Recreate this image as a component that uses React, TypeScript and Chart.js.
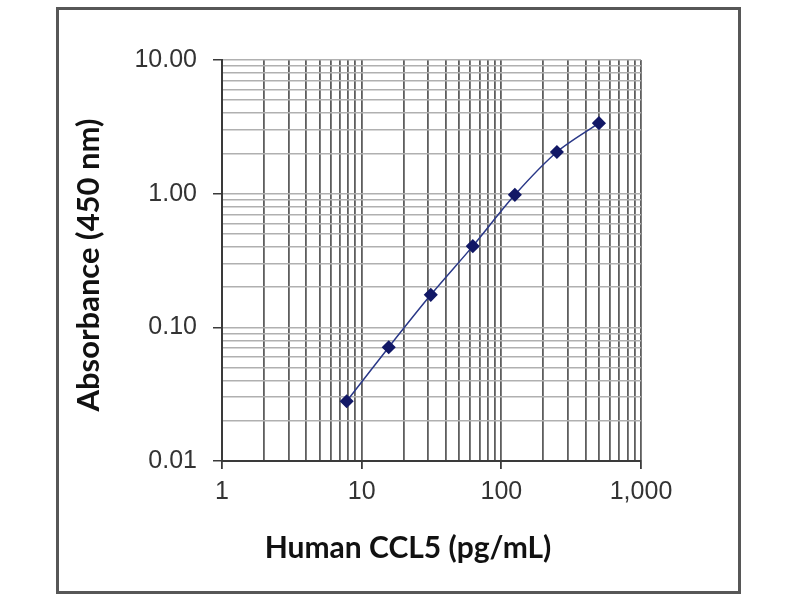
import React, { useEffect, useRef } from "react";
import { Chart, registerables } from "chart.js";

Chart.register(...registerables);

// ---- data ----
const concentrations = [7.8125, 15.625, 31.25, 62.5, 125, 250, 500];
const absorbance = [0.028, 0.071, 0.175, 0.405, 0.98, 2.05, 3.37];
const xTickLabels = ["1", "10", "100", "1,000"];
const yTickLabels = ["0.01", "0.10", "1.00", "10.00"];
const xTitle = "Human CCL5 (pg/mL)";
const yTitle = "Absorbance (450 nm)";
const X_MIN = 1;
const X_MAX = 1000;
const Y_MIN = 0.01;
const Y_MAX = 10;

const isPow10 = (v: number) => Math.abs(Math.log10(v) - Math.round(Math.log10(v))) < 1e-9;

function logTicks(min: number, max: number) {
  const out: { value: number; major: boolean }[] = [];
  const e0 = Math.floor(Math.log10(min) + 1e-9);
  const e1 = Math.ceil(Math.log10(max) - 1e-9);
  for (let e = e0; e <= e1; e++) {
    for (let m = 1; m <= 9; m++) {
      const v = parseFloat((m * Math.pow(10, e)).toPrecision(12));
      if (v >= min * 0.999999 && v <= max * 1.000001) out.push({ value: v, major: m === 1 });
    }
  }
  return out;
}

function labelFor(v: number, min: number, labels: string[]) {
  if (!isPow10(v)) return "";
  const k = Math.round(Math.log10(v) - Math.log10(min));
  return labels[k] ?? "";
}

const frameAndTitles = {
  id: "frameAndTitles",
  afterDraw(chart: any) {
    const ctx = chart.ctx as CanvasRenderingContext2D;
    ctx.save();
    // outer frame
    ctx.strokeStyle = "#575757";
    ctx.lineWidth = 3;
    ctx.strokeRect(57.5, 8.5, 682, 584);
    // titles
    ctx.fillStyle = "#111";
    ctx.textAlign = "center";
    ctx.textBaseline = "middle";
    const fit = (text: string, target: number) => {
      ctx.font = "bold 24px Lato";
      const w = ctx.measureText(text).width;
      return Math.round(24 * target / w);
    };
    const xs = fit(xTitle, 284);
    ctx.font = `bold ${xs}px Lato`;
    ctx.fillText(xTitle, 408, 548);
    const ys = fit(yTitle, 292);
    ctx.save();
    ctx.translate(89, 265);
    ctx.rotate(-Math.PI / 2);
    ctx.font = `bold ${ys}px Lato`;
    ctx.fillText(yTitle, 0, 0);
    ctx.restore();
    ctx.restore();
  },
};

export default function App() {
  const ref = useRef<HTMLCanvasElement | null>(null);
  useEffect(() => {
    if (!ref.current) return;
    const chart = new Chart(ref.current, {
      type: "line",
      data: {
        datasets: [
          {
            data: concentrations.map((x, i) => ({ x, y: absorbance[i] })),
            borderColor: "#2a3888",
            borderWidth: 1.5,
            backgroundColor: "#121866",
            pointBackgroundColor: "#121866",
            pointBorderColor: "#121866",
            pointStyle: "rectRot",
            pointRadius: 6,
            tension: 0.3,
            fill: false,
          },
        ],
      },
      options: {
        animation: false,
        responsive: false,
        maintainAspectRatio: false,
        layout: { padding: { left: 0, top: 60, right: 159, bottom: 0 } },
        plugins: { legend: { display: false }, tooltip: { enabled: false } },
        scales: {
          x: {
            type: "logarithmic",
            min: X_MIN,
            max: X_MAX,
            afterBuildTicks: (s: any) => { s.ticks = logTicks(X_MIN, X_MAX); },
            afterFit: (s: any) => { s.height = 139; },
            border: { color: "#3a3a3a", width: 2 },
            grid: {
              color: "#5e5e5e",
              lineWidth: 1.8,
              tickLength: 8,
              tickColor: (c: any) => (c.tick && isPow10(c.tick.value) ? "#3a3a3a" : "rgba(0,0,0,0)"),
            },
            ticks: {
              autoSkip: false,
              maxRotation: 0,
              padding: 8,
              color: "#333",
              font: { family: "Liberation Sans", size: 25 },
              callback: (v: any) => labelFor(Number(v), X_MIN, xTickLabels),
            },
          },
          y: {
            type: "logarithmic",
            min: Y_MIN,
            max: Y_MAX,
            afterBuildTicks: (s: any) => { s.ticks = logTicks(Y_MIN, Y_MAX); },
            afterFit: (s: any) => { s.width = 222; },
            border: { color: "#3a3a3a", width: 2 },
            grid: {
              color: "#b0b0b0",
              lineWidth: 1.5,
              tickLength: 9,
              tickColor: (c: any) => (c.tick && isPow10(c.tick.value) ? "#3a3a3a" : "rgba(0,0,0,0)"),
            },
            ticks: {
              autoSkip: false,
              padding: 16,
              color: "#333",
              font: { family: "Liberation Sans", size: 25 },
              callback: (v: any) => labelFor(Number(v), Y_MIN, yTickLabels),
            },
          },
        },
      },
      plugins: [frameAndTitles],
    } as any);
    return () => chart.destroy();
  }, []);
  return (
    <div style={{ position: "fixed", left: 0, top: 0, width: 800, height: 600, background: "#fff" }}>
      <canvas ref={ref} width={800} height={600} style={{ width: 800, height: 600, display: "block" }} />
    </div>
  );
}
